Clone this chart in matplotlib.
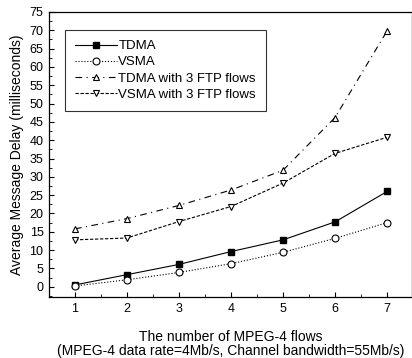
import matplotlib
matplotlib.use("Agg")
import matplotlib.pyplot as plt
from matplotlib.ticker import MultipleLocator

plt.rcParams['font.family'] = ['Liberation Sans', 'DejaVu Sans']

flows = [1, 2, 3, 4, 5, 6, 7]
tdma = [0.5, 3.3, 6.1, 9.6, 12.8, 17.7, 26.0]
vsma = [0.2, 1.9, 3.9, 6.3, 9.4, 13.2, 17.5]
tdma_ftp = [15.8, 18.6, 22.2, 26.4, 31.8, 46.2, 69.8]
vsma_ftp = [12.8, 13.3, 17.8, 21.9, 28.3, 36.4, 40.8]

fig = plt.figure(figsize=(4.12, 3.58), dpi=100)
ax = fig.add_axes([49/412, 1 - 297/358, 363/412, (297-12)/358])

lw = 0.8
ax.plot(flows, tdma, '-', color='black', lw=lw, marker='s', ms=4.5, mfc='black', mec='black', label='TDMA')
ax.plot(flows, vsma, ':', color='black', lw=lw, marker='o', ms=5, mfc='white', mec='black', mew=0.8, label='VSMA')
ax.plot(flows, tdma_ftp, color='black', lw=lw, ls=(0, (6, 4, 1, 4)), marker='^', ms=5, mfc='white', mec='black', mew=0.8, label='TDMA with 3 FTP flows')
ax.plot(flows, vsma_ftp, color='black', lw=lw, ls=(0, (3, 1.5)), marker='v', ms=5, mfc='white', mec='black', mew=0.8, label='VSMA with 3 FTP flows')

ax.set_xlim(0.5, 7.48)
ax.set_ylim(-2.8, 75)
ax.xaxis.set_major_locator(MultipleLocator(1))
ax.xaxis.set_minor_locator(MultipleLocator(0.5))
ax.yaxis.set_major_locator(MultipleLocator(5))
ax.yaxis.set_minor_locator(MultipleLocator(2.5))
ax.tick_params(which='both', direction='in', labelsize=9, top=False, right=False)
ax.tick_params(which='major', length=3.5, pad=4)
ax.tick_params(which='minor', length=2)
for s in ax.spines.values():
    s.set_linewidth(0.9)

ax.set_xlabel('The number of MPEG-4 flows\n(MPEG-4 data rate=4Mb/s, Channel bandwidth=55Mb/s)', fontsize=10, labelpad=11, linespacing=1.05)
ax.set_ylabel('Average Message Delay (milliseconds)', fontsize=10, labelpad=4)

leg = ax.legend(loc='upper left', bbox_to_anchor=(16/363, 1 - 18/285), fontsize=9.5, frameon=True,
                fancybox=False, edgecolor='black', handlelength=3.2, handletextpad=0.1,
                borderpad=0.75, labelspacing=0.3, borderaxespad=0)
leg.get_frame().set_linewidth(0.8)

fig.savefig('out.png', dpi=100)
